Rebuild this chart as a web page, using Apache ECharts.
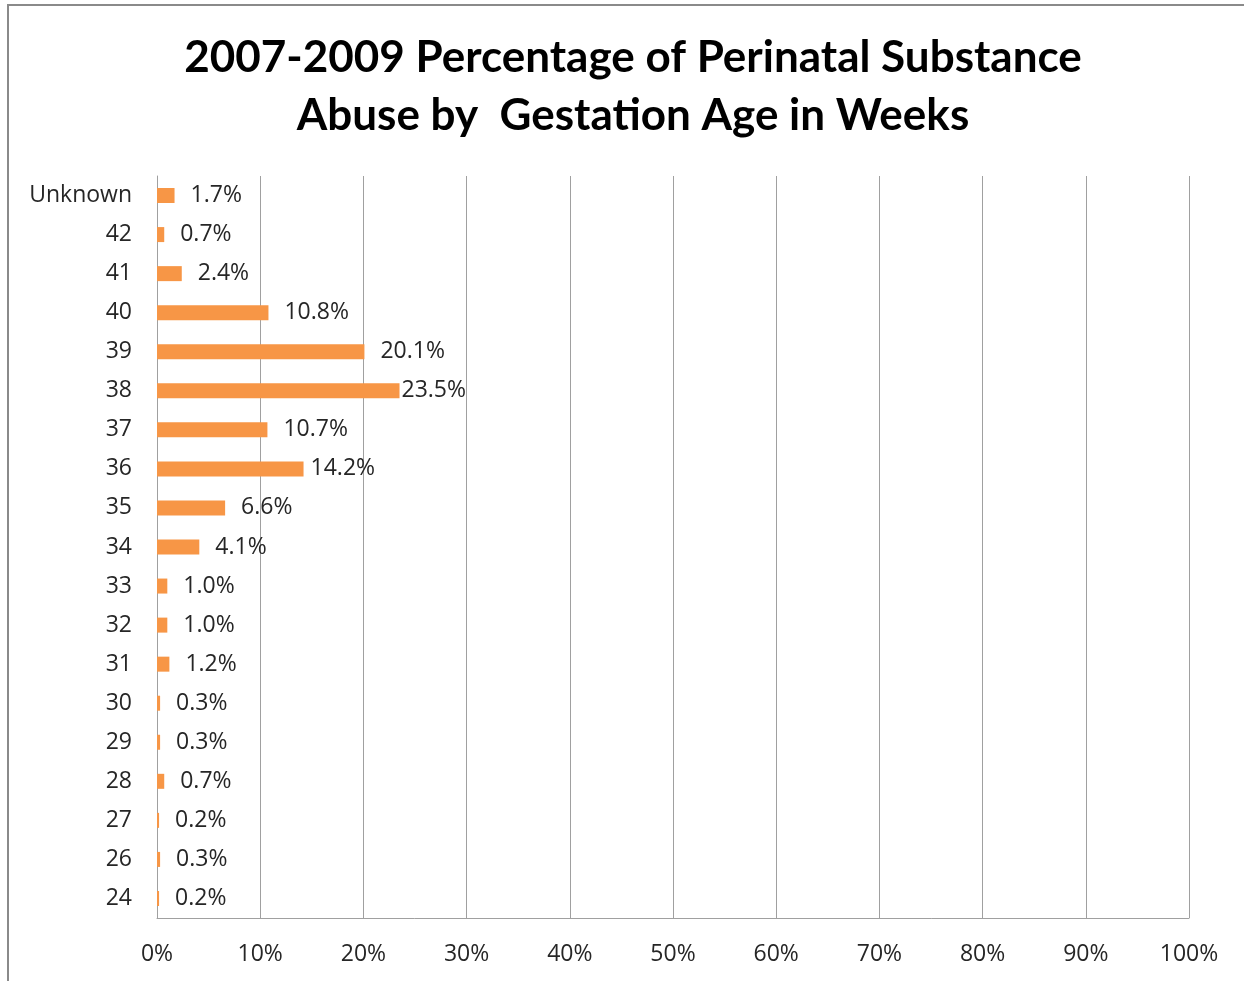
<!DOCTYPE html>
<html><head><meta charset="utf-8">
<script src="https://cdn.jsdelivr.net/npm/echarts@6/dist/echarts.min.js"></script>
<style>html,body{margin:0;padding:0;background:#fff}#c{width:1244px;height:981px}</style>
</head><body><div id="c"></div>
<script>
const categories = ['Unknown','42','41','40','39','38','37','36','35','34','33','32','31','30','29','28','27','26','24'];
const values = [1.7,0.7,2.4,10.8,20.1,23.5,10.7,14.2,6.6,4.1,1.0,1.0,1.2,0.3,0.3,0.7,0.2,0.3,0.2];
const xTicks = [0,10,20,30,40,50,60,70,80,90,100];
const titleLines = ['2007-2009 Percentage of Perinatal Substance','Abuse by  Gestation Age in Weeks'];

const labelDist = {'38':2,'36':7};
const chart = echarts.init(document.getElementById('c'));
chart.setOption({
  animation:false,
  graphic:[{type:'rect',shape:{x:8,y:5,width:1300,height:1100},style:{fill:'none',stroke:'#8a8a8a',lineWidth:2},silent:true}],
  title:{text:titleLines.join('\n'),left:628,textAlign:'center',top:24,
    textStyle:{fontFamily:'Lato',fontWeight:'bold',fontSize:44,color:'#000',lineHeight:58}},
  grid:{left:157,right:55,top:176,bottom:63,containLabel:false},
  xAxis:{type:'value',min:xTicks[0],max:xTicks[xTicks.length-1],interval:10,
    axisLine:{show:true,lineStyle:{color:'#a0a0a0'}},axisTick:{show:false},
    splitLine:{show:true,lineStyle:{color:'#a0a0a0',width:1}},
    axisLabel:{formatter:v=>v+'%',fontFamily:'Open Sans',fontSize:23,color:'#262626',margin:25}},
  yAxis:{type:'category',data:categories,inverse:true,
    axisLine:{show:true,lineStyle:{color:'#a0a0a0'}},axisTick:{show:false},
    axisLabel:{fontFamily:'Open Sans',fontSize:23,color:'#262626',margin:25}},
  series:[{type:'bar',barWidth:15,itemStyle:{color:'#F79646'},
    data:values.map((v,i)=>({value:v,label:{distance:labelDist[categories[i]]!==undefined?labelDist[categories[i]]:16}})),
    label:{show:true,position:'right',formatter:p=>p.value.toFixed(1)+'%',fontFamily:'Open Sans',fontSize:23,color:'#262626'}}]
});
</script></body></html>
